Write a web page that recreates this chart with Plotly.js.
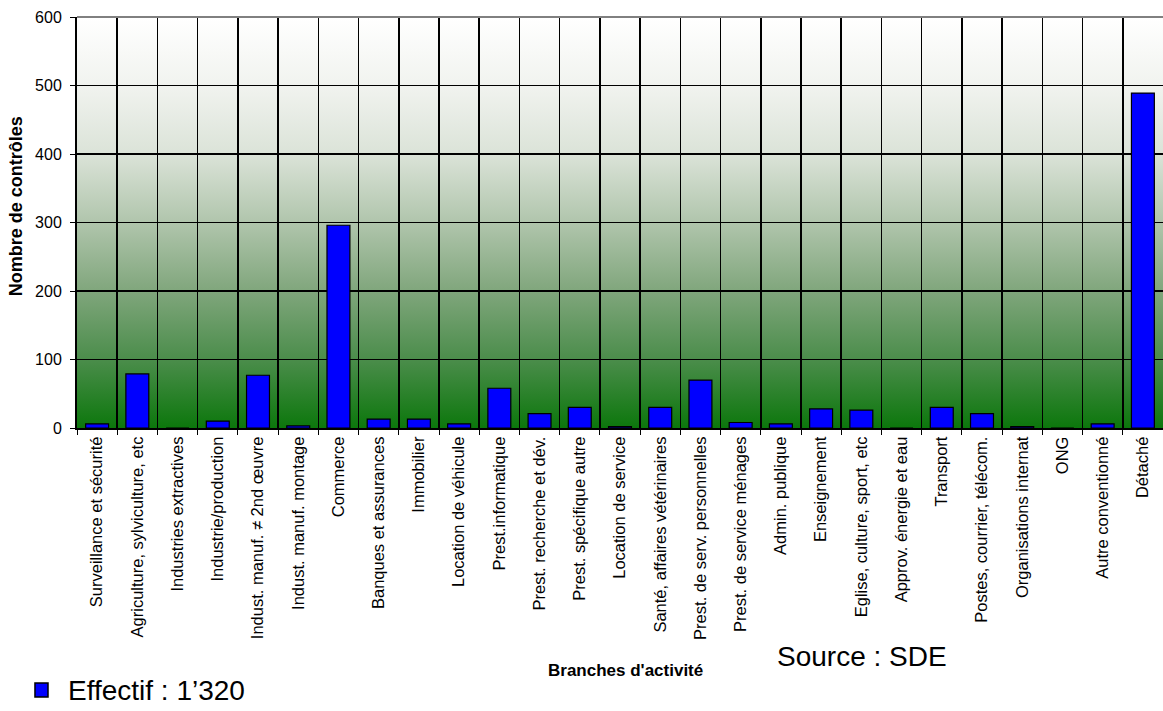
<!DOCTYPE html>
<html>
<head>
<meta charset="utf-8">
<script src="https://cdn.plot.ly/plotly-3.0.1.min.js"></script>
<style>
html,body{margin:0;padding:0;background:#fff;}
#chart{width:1163px;height:711px;}
</style>
</head>
<body>
<div id="chart"></div>
<script>
const categories = [
  "Surveillance et sécurité",
  "Agriculture, sylviculture, etc",
  "Industries extractives",
  "Industrie/production",
  "Indust. manuf. ≠ 2nd œuvre",
  "Indust. manuf. montage",
  "Commerce",
  "Banques et assurances",
  "Immobilier",
  "Location de véhicule",
  "Prest.informatique",
  "Prest. recherche et dév.",
  "Prest. spécifique autre",
  "Location de service",
  "Santé, affaires vétérinaires",
  "Prest. de serv. personnelles",
  "Prest. de service ménages",
  "Admin. publique",
  "Enseignement",
  "Eglise, culture, sport, etc",
  "Approv. énergie et eau",
  "Transport",
  "Postes, courrier, télécom.",
  "Organisations internat",
  "ONG",
  "Autre conventionné",
  "Détaché"
];
const controles = [6, 79, 0, 10, 77, 3, 296, 13, 13, 6, 58, 21, 30, 2, 30, 70, 8, 6, 28, 26, 0, 30, 21, 2, 0, 6, 489];
const seriesName = "Effectif : 1’320";
const yTitle = "Nombre de contrôles";
const xTitle = "Branches d'activité";
const sourceText = "Source : SDE";

const barColor = '#0000ff';

const gradSvg = '<svg xmlns="http://www.w3.org/2000/svg" width="100" height="600" preserveAspectRatio="none">' +
  '<defs><linearGradient id="g" x1="0" y1="0" x2="0" y2="1">' +
  '<stop offset="0" stop-color="#ffffff"/>' +
  '<stop offset="0.167" stop-color="#f1f3ef"/>' +
  '<stop offset="0.333" stop-color="#dbe3d8"/>' +
  '<stop offset="0.5" stop-color="#b0c5ac"/>' +
  '<stop offset="0.667" stop-color="#80a67c"/>' +
  '<stop offset="0.833" stop-color="#4b8d4b"/>' +
  '<stop offset="1" stop-color="#0c770c"/>' +
  '</linearGradient></defs><rect width="100" height="600" fill="url(#g)"/></svg>';
const gradUri = 'data:image/svg+xml;charset=utf-8,' + encodeURIComponent(gradSvg);

const font = "Liberation Sans, Arial, sans-serif";

const trace = {
  type: 'bar',
  x: categories,
  y: controles,
  name: seriesName,
  marker: {color: barColor, line: {color: '#000000', width: 1.2}},
  showlegend: false,
  hoverinfo: 'x+y'
};

const layout = {
  width: 1163,
  height: 711,
  margin: {l: 77, r: 0, t: 17, b: 283},
  paper_bgcolor: '#ffffff',
  plot_bgcolor: 'rgba(0,0,0,0)',
  font: {family: font, color: '#000'},
  bargap: 0.43,
  showlegend: false,
  xaxis: {
    type: 'category',
    tickson: 'boundaries',
    showgrid: true, gridcolor: '#000', gridwidth: 1.5,
    ticks: 'outside', ticklen: 5, tickcolor: '#000',
    tickangle: -90,
    tickfont: {size: 16.5, family: font, color: '#000'},
    showline: true, linecolor: '#000', linewidth: 2,
    automargin: false
  },
  yaxis: {
    range: [0, 600], dtick: 100,
    showgrid: true, gridcolor: '#000', gridwidth: 1.5,
    zeroline: false,
    ticks: 'outside', ticklen: 5, tickcolor: '#000',
    ticklabelstandoff: 5,
    tickfont: {size: 16, family: font, color: '#000'},
    showline: true, linecolor: '#000', linewidth: 2,
    automargin: false
  },
  images: [{
    source: gradUri, xref: 'paper', yref: 'paper',
    x: 0, y: 1, sizex: 1, sizey: 1, sizing: 'stretch',
    xanchor: 'left', yanchor: 'top', layer: 'below'
  }],
  shapes: [
    {type: 'line', xref: 'paper', yref: 'paper', x0: 0, x1: 1, y0: 1, y1: 1,
     line: {color: '#808080', width: 2}},
    /* legend swatch */
    {type: 'rect', xref: 'paper', yref: 'paper', x0: -0.0387, x1: -0.0267, y0: -0.6545, y1: -0.6204,
     fillcolor: barColor, line: {color: '#000', width: 1.5}}
  ],
  annotations: [
    {text: '<b>' + yTitle + '</b>', xref: 'paper', yref: 'paper', x: -0.056, y: 0.54,
     textangle: -90, showarrow: false, font: {size: 18, family: font, color: '#000'},
     xanchor: 'center', yanchor: 'middle'},
    {text: '<b>' + xTitle + '</b>', xref: 'paper', yref: 'paper', x: 0.505, y: -0.59,
     showarrow: false, font: {size: 17, family: font, color: '#000'}, xanchor: 'center', yanchor: 'middle'},
    {text: sourceText, xref: 'paper', yref: 'paper', x: 0.723, y: -0.556,
     showarrow: false, font: {size: 28, family: font, color: '#000'}, xanchor: 'center', yanchor: 'middle'},
    {text: seriesName, xref: 'paper', yref: 'paper', x: -0.0101, y: -0.6375,
     showarrow: false, font: {size: 28, family: font, color: '#000'}, xanchor: 'left', yanchor: 'middle'}
  ]
};

Plotly.newPlot('chart', [trace], layout, {displayModeBar: false, staticPlot: true});
</script>
</body>
</html>
